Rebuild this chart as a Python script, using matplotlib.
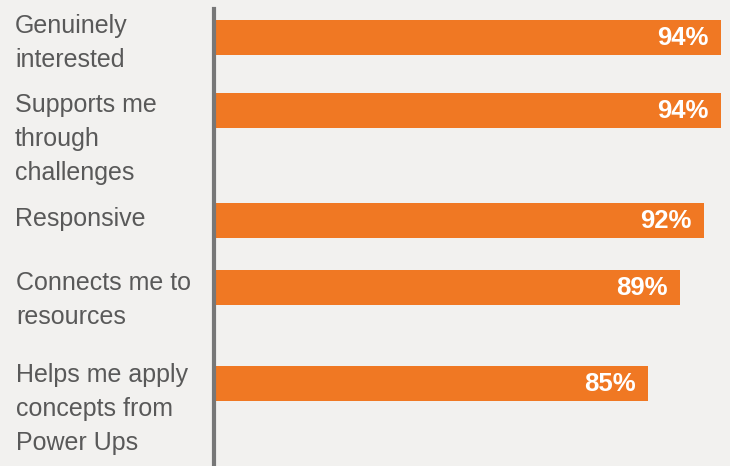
"""Horizontal bar chart: what students say about their mentor."""

import matplotlib

matplotlib.use("Agg")
import matplotlib.pyplot as plt

labels = [
    "Genuinely\ninterested",
    "Supports me\nthrough\nchallenges",
    "Responsive",
    "Connects me to\nresources",
    "Helps me apply\nconcepts from\nPower Ups",
]
values = [94, 94, 92, 89, 85]

# layout (pixel rows of the original picture)
W, H = 730, 466
bar_rows = [37.5, 110.5, 220.5, 287.5, 383.5]
label_tops = [14, 93, 207, 271, 363]
label_lefts = [15, 15, 15, 16, 16]

BG = "#f2f1ef"
ORANGE = "#f07823"
TEXT = "#595959"

plt.rcParams["font.family"] = ["Liberation Sans", "DejaVu Sans"]

fig = plt.figure(figsize=(W / 100, H / 100), dpi=100, facecolor=BG)
ax = fig.add_axes([214 / W, 0, 1 - 214 / W, 1 - 9 / H])
ax.set_facecolor(BG)

ax.barh(bar_rows, values, height=35, color=ORANGE)
ax.set_xlim(31.15, 31.15 + 516 / 8.06)
ax.set_ylim(H, 9)

for y, v in zip(bar_rows, values):
    ax.annotate(f"{v}%", xy=(v, y), xytext=(-9, 0), textcoords="offset points",
                ha="right", va="center", color="white", fontsize=18.5,
                fontweight="bold")

for text, x, y in zip(labels, label_lefts, label_tops):
    fig.text(x / W, 1 - y / H, text, ha="left", va="top", fontsize=18,
             color=TEXT, linespacing=1.52)

for side in ["top", "right", "bottom"]:
    ax.spines[side].set_visible(False)
ax.spines["left"].set_color("#777777")
ax.spines["left"].set_linewidth(3)
ax.set_xticks([])
ax.set_yticks([])

fig.savefig("out.png", dpi=100, facecolor=BG)
